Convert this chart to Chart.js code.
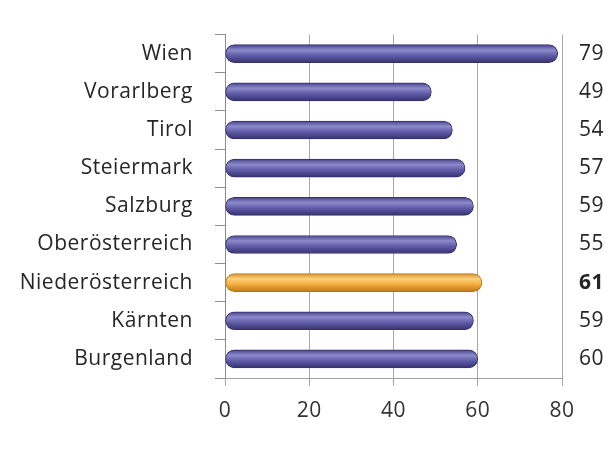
<!DOCTYPE html>
<html>
<head>
<meta charset="utf-8">
<script src="https://cdn.jsdelivr.net/npm/chart.js@4.4.1/dist/chart.umd.min.js"></script>
<style>
  html, body { margin: 0; padding: 0; background: #fff; }
  #wrap { width: 615px; height: 466px; }
</style>
</head>
<body>
<div id="wrap"><canvas id="canvas1" width="615" height="466"></canvas></div>
<script>
// Bundesländer, von oben nach unten
var regions = ['Wien', 'Vorarlberg', 'Tirol', 'Steiermark', 'Salzburg', 'Oberösterreich', 'Niederösterreich', 'Kärnten', 'Burgenland'];
var values = [79, 49, 54, 57, 59, 55, 61, 59, 60];
var highlight = 'Niederösterreich';
var xTicks = [0, 20, 40, 60, 80];

var valueLabels = [];
for (var i = 0; i < values.length; i++) {
    valueLabels.push(String(values[i]));
}

var fontName = '"Open Sans", Lato, sans-serif';

// zylinder-look: verlauf pro balken
function barFill(ctx) {
    var chart = ctx.chart;
    var hl = regions[ctx.dataIndex] == highlight;
    if (!chart.chartArea) return hl ? '#f2a93b' : '#5f5aa6';
    var yc = chart.scales.y.getPixelForValue(ctx.dataIndex);
    var g = chart.ctx.createLinearGradient(0, yc - 9, 0, yc + 9);
    if (hl) {
        g.addColorStop(0, '#d8902a');
        g.addColorStop(0.3, '#fcd27c');
        g.addColorStop(0.6, '#f4ad3e');
        g.addColorStop(1, '#c07a18');
    } else {
        g.addColorStop(0, '#47438a');
        g.addColorStop(0.3, '#8d8acb');
        g.addColorStop(0.6, '#605ca8');
        g.addColorStop(1, '#36326f');
    }
    return g;
}

// etwas breitere schrift wie im original
var spacing = {
    id: 'spacing',
    beforeDraw: function (chart) { chart.ctx.letterSpacing = '0.5px'; }
};

var ctx = document.getElementById('canvas1').getContext('2d');
var myChart = new Chart(ctx, {
    type: 'bar',
    data: {
        labels: regions,
        datasets: [{
            data: values,
            backgroundColor: barFill,
            borderColor: function (c) { return regions[c.dataIndex] == highlight ? '#b77414' : '#343070'; },
            borderWidth: 1,
            borderSkipped: false,
            borderRadius: 9,
            barThickness: 18,
            yAxisID: 'y'
        }]
    },
    options: {
        indexAxis: 'y',
        responsive: false,
        animation: false,
        layout: { padding: { top: 23, left: 0, right: 0, bottom: 0 } },
        plugins: {
            legend: { display: false },
            tooltip: { enabled: false }
        },
        scales: {
            x: {
                min: 0,
                max: 80,
                afterBuildTicks: function (s) { s.ticks = xTicks.map(function (v) { return { value: v }; }); },
                afterFit: function (s) { s.height = 88; },
                grid: { color: '#a8a8a8', lineWidth: 1, tickLength: 8, tickColor: '#a8a8a8' },
                border: { display: true, color: '#a0a0a0' },
                ticks: { color: '#333', padding: 12, font: { family: fontName, size: 21 } }
            },
            y: {
                position: 'left',
                offset: true,
                afterFit: function (s) { s.width = 225; },
                grid: { drawOnChartArea: false, offset: true, tickLength: 10, color: '#8c8c8c' },
                border: { display: true, color: '#8c8c8c' },
                ticks: { color: '#262626', padding: 22, font: { family: fontName, size: 21 } }
            },
            y2: {
                type: 'category',
                position: 'right',
                labels: valueLabels,
                offset: true,
                afterFit: function (s) { s.width = 53; },
                grid: { display: false },
                border: { display: false },
                ticks: {
                    color: '#262626',
                    padding: 9,
                    align: 'center',
                    crossAlign: 'near',
                    font: function (c) {
                        var bold = regions[c.index] == highlight;
                        return { family: fontName, size: 21, weight: bold ? 'bold' : 'normal' };
                    }
                }
            }
        }
    },
    plugins: [spacing]
});
</script>
</body>
</html>
